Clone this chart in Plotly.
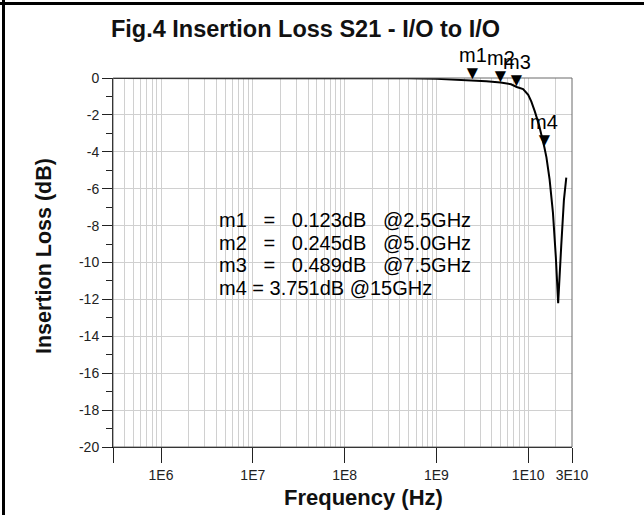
import math
import plotly.graph_objects as go

# ---------------- data ----------------
freq_hz = [3e5, 1e6, 1e7, 1e8, 5e8, 1e9, 1.6e9, 2.5e9, 3.5e9, 5e9, 6.5e9, 7.5e9,
           8.8e9, 1.0e10, 1.08e10, 1.18e10, 1.31e10, 1.5e10, 1.58e10, 1.71e10,
           1.86e10, 2.0e10, 2.12e10, 2.29e10, 2.45e10, 2.6e10]
loss_db = [0, 0, 0, -0.005, -0.02, -0.045, -0.08, -0.123, -0.17, -0.245, -0.34, -0.489,
           -0.6, -0.91, -1.27, -1.81, -2.54, -3.751, -4.3, -5.5,
           -7.3, -9.7, -12.2, -9.1, -6.6, -5.4]

marker_names = ["m1", "m2", "m3", "m4"]
marker_freq_hz = [2.5e9, 5.0e9, 7.5e9, 15e9]
marker_db = [-0.123, -0.245, -0.489, -3.751]
readout_lines = [
    "m1\u00a0\u00a0\u00a0=\u00a0\u00a0\u00a00.123dB\u00a0\u00a0\u00a0@2.5GHz",
    "m2\u00a0\u00a0\u00a0=\u00a0\u00a0\u00a00.245dB\u00a0\u00a0\u00a0@5.0GHz",
    "m3\u00a0\u00a0\u00a0=\u00a0\u00a0\u00a00.489dB\u00a0\u00a0\u00a0@7.5GHz",
    "m4 = 3.751dB @15GHz",
]

x_tick_vals = [3e5, 1e6, 1e7, 1e8, 1e9, 1e10, 3e10]
x_tick_text = ["", "1E6", "1E7", "1E8", "1E9", "1E10", "3E10"]
y_tick_vals = [0, -2, -4, -6, -8, -10, -12, -14, -16, -18, -20]
y_tick_text = ["0", "-2", "-4", "-6", "-8", "-10", "-12", "-14", "-16", "-18", "-20"]
minor_mult = [2, 3, 4, 5, 6, 7, 8, 9]
decades = [5, 6, 7, 8, 9, 10]

title_text = "Fig.4 Insertion Loss S21 - I/O to I/O"
x_title = "Frequency (Hz)"
y_title = "Insertion Loss (dB)"

# ---------------- layout geometry ----------------
W, H = 644, 515
ML, MR, MT, MB = 113, 72, 78, 68
PW, PH = W - ML - MR, H - MT - MB


def px_x(px):
    return (px - ML) / PW


def px_y(py):
    return 1 - (py - MT) / PH


REG = "Liberation Sans, Arial, sans-serif"
TICKF = "Liberation Sans Narrow, Arial Narrow, Liberation Sans, Arial, sans-serif"
GRID = "#d0d0d0"

x_lo, x_hi = x_tick_vals[0], x_tick_vals[-1]
minor_vals = [m * 10 ** d for d in decades for m in minor_mult if x_lo <= m * 10 ** d <= x_hi]

fig = go.Figure()
fig.add_trace(go.Scatter(x=freq_hz, y=loss_db, mode="lines",
                         line=dict(color="black", width=2), showlegend=False,
                         hoverinfo="skip"))

annotations = []
for name, f, db in zip(marker_names, marker_freq_hz, marker_db):
    annotations.append(dict(x=math.log10(f), y=db, xref="x", yref="y", text="\u25bc",
                            showarrow=False, xanchor="center", yanchor="bottom",
                            yshift=-5, font=dict(family=REG, size=19, color="black")))
    annotations.append(dict(x=math.log10(f), y=db, xref="x", yref="y", text=name,
                            showarrow=False, xanchor="center", yanchor="bottom",
                            yshift=12, font=dict(family=REG, size=20, color="black")))

for i, line in enumerate(readout_lines):
    annotations.append(dict(x=px_x(217), y=px_y(220 + 22.7 * i), xref="paper", yref="paper",
                            text=line, showarrow=False, xanchor="left", yanchor="middle",
                            font=dict(family=REG, size=20, color="black")))

annotations.append(dict(x=px_x(363), y=px_y(497), xref="paper", yref="paper", text="<b>" + x_title + "</b>",
                        showarrow=False, xanchor="center", yanchor="middle",
                        font=dict(family=REG, size=22, color="#111")))
annotations.append(dict(x=px_x(44), y=px_y(256), xref="paper", yref="paper", text="<b>" + y_title + "</b>",
                        showarrow=False, xanchor="center", yanchor="middle", textangle=-90,
                        font=dict(family=REG, size=21.5, color="#111")))

shapes = [
    dict(type="rect", xref="paper", yref="paper", x0=0, x1=1, y0=0, y1=1,
         line=dict(color="#6a6a6a", width=1), layer="above"),
    dict(type="line", xref="paper", yref="paper", x0=px_x(0), x1=px_x(W), y0=px_y(3.5), y1=px_y(3.5),
         line=dict(color="black", width=3)),
    dict(type="line", xref="paper", yref="paper", x0=px_x(3.5), x1=px_x(3.5), y0=px_y(0), y1=px_y(H),
         line=dict(color="black", width=3)),
]

fig.update_layout(
    width=W, height=H,
    margin=dict(l=ML, r=MR, t=MT, b=MB, pad=0),
    paper_bgcolor="white", plot_bgcolor="white",
    title=dict(text="<b>" + title_text + "</b>", x=305.5 / W, xanchor="center",
               y=1 - 29 / H, yanchor="middle",
               font=dict(family=REG, size=23.5, color="#111")),
    annotations=annotations,
    shapes=shapes,
    showlegend=False,
)

fig.update_xaxes(
    type="log", range=[math.log10(x_lo), math.log10(x_hi)],
    tickvals=x_tick_vals, ticktext=x_tick_text,
    ticks="outside", ticklen=15, tickwidth=1, tickcolor="#222",
    showline=True, linecolor="black", linewidth=1,
    showgrid=True, gridcolor=GRID, gridwidth=1, zeroline=False,
    tickfont=dict(family=TICKF, size=14, color="#222"),
    minor=dict(tickvals=minor_vals, showgrid=True, gridcolor=GRID, gridwidth=1, ticks=""),
)
fig.update_yaxes(
    range=[-20, 0], tickvals=y_tick_vals, ticktext=y_tick_text,
    ticks="outside", ticklen=10, tickwidth=1, tickcolor="#222",
    showline=True, linecolor="black", linewidth=1,
    showgrid=True, gridcolor=GRID, gridwidth=1, zeroline=False,
    tickfont=dict(family=TICKF, size=14, color="#222"),
    minor=dict(dtick=1, ticks="outside", ticklen=6, tickcolor="#222", showgrid=False),
)

fig.write_html("out.html")
